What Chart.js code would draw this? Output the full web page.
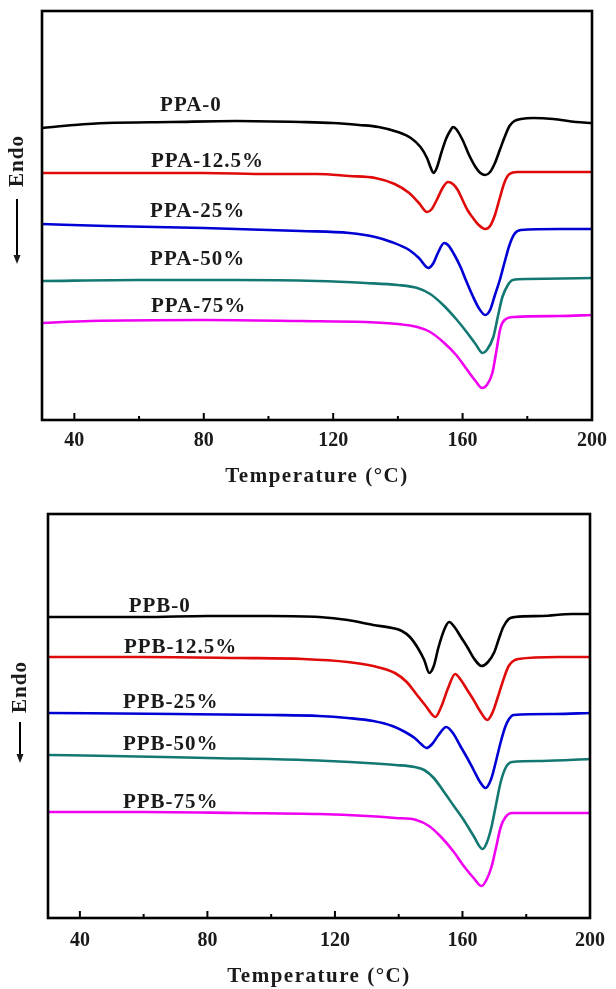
<!DOCTYPE html>
<html>
<head>
<meta charset="utf-8">
<script src="https://cdn.jsdelivr.net/npm/chart.js@4"></script>
<style>
  html, body { margin: 0; padding: 0; background: #fff; }
  .panel { position: absolute; left: 0; width: 616px; }
  #top-panel { top: 0; height: 495px; }
  #bottom-panel { top: 495px; height: 494px; }
</style>
</head>
<body>
<div class="panel" id="top-panel"><canvas id="ppa-chart"></canvas></div>
<div class="panel" id="bottom-panel"><canvas id="ppb-chart"></canvas></div>
<script>
// axis text
const xMajorTicks = [40, 80, 120, 160, 200];
const xMinorTicks = [60, 100, 140, 180];
const xTitle = "Temperature (°C)";
const yTitle = "Endo";

const ppaNames = ["PPA-0", "PPA-12.5%", "PPA-25%", "PPA-50%", "PPA-75%"];
const ppbNames = ["PPB-0", "PPB-12.5%", "PPB-25%", "PPB-50%", "PPB-75%"];
const curveColors = ["#000000", "#e00a0a", "#0000d4", "#137872", "#f000f0"];

// DSC curves, [temperature (°C), heat flow (a.u., offset per curve)]
const ppa0 = [[30, 29.0], [40, 29.3], [50, 29.5], [70, 29.6], [90, 29.7], [110, 29.6], [120, 29.5], [128, 29.3], [134, 29.1], [140, 28.6], [144, 28.0], [147, 27.1], [149, 26.0], [150.3, 24.9], [151, 24.5], [152, 25.0], [153.5, 26.6], [155, 28.0], [156.5, 28.9], [157, 29.1], [158, 28.9], [160, 27.8], [162, 26.3], [164, 25.1], [165.5, 24.5], [167, 24.3], [168.5, 24.6], [170, 25.5], [171.5, 26.8], [173, 28.1], [174.5, 29.2], [176, 29.7], [178, 29.9], [182, 30.0], [188, 29.9], [195, 29.6], [200, 29.5]];
const ppa125 = [[30, 24.5], [50, 24.5], [80, 24.5], [100, 24.4], [115, 24.4], [125, 24.2], [133, 24.0], [139, 23.4], [143.5, 22.5], [146.5, 21.5], [149, 20.6], [150.5, 20.9], [152, 21.8], [154, 23.1], [155.5, 23.6], [157, 23.4], [158.5, 22.8], [160, 21.8], [161.5, 20.8], [163, 20.1], [165, 19.3], [167, 18.9], [168.5, 19.2], [170, 20.3], [171.5, 22.0], [173, 23.6], [174.5, 24.4], [177, 24.6], [185, 24.6], [200, 24.6]];
const ppa25 = [[30, 19.4], [50, 19.2], [80, 19.0], [110, 18.7], [125, 18.5], [133, 18.1], [138, 17.6], [143.5, 16.8], [146.5, 16.0], [149.4, 15.0], [151, 15.5], [152.5, 16.6], [154.3, 17.5], [155.5, 17.3], [157.5, 16.3], [159.5, 15.0], [161, 13.8], [163, 12.3], [165, 11.0], [167, 10.3], [168.5, 10.8], [170, 12.3], [171.5, 13.8], [173, 15.6], [174.5, 17.3], [176, 18.4], [178, 18.8], [190, 18.9], [200, 18.9]];
const ppa50 = [[30, 13.7], [60, 13.8], [90, 13.8], [115, 13.7], [130, 13.5], [140, 13.3], [146, 13.0], [150, 12.4], [154, 11.3], [158, 9.9], [161, 8.7], [164, 7.4], [166.2, 6.5], [167.5, 6.8], [169.5, 8.1], [171, 10.3], [172.3, 12.1], [174, 13.3], [175.5, 13.8], [180, 13.9], [200, 14.0]];
const ppa75 = [[30, 9.5], [45, 9.7], [80, 9.8], [110, 9.7], [130, 9.6], [140, 9.4], [146, 9.1], [150, 8.6], [154, 7.6], [158, 6.3], [161, 5.0], [164, 3.7], [166, 3.0], [167.5, 3.3], [169.2, 4.5], [170.5, 6.8], [171.7, 9.0], [173, 9.8], [176, 10.1], [190, 10.2], [200, 10.3]];

const ppb0 = [[30, 29.8], [60, 29.8], [80, 29.9], [100, 29.9], [115, 29.8], [124, 29.5], [132, 29.0], [138, 28.7], [141, 28.4], [143.5, 27.8], [146, 26.7], [148, 25.5], [149.6, 24.2], [151, 24.9], [152.5, 26.8], [154.5, 28.7], [155.8, 29.3], [157.5, 28.8], [159.5, 27.8], [161.5, 26.8], [163.5, 25.7], [166, 24.9], [168, 25.3], [170, 26.3], [171.5, 27.7], [172.8, 28.8], [174.5, 29.6], [176.5, 29.8], [185, 29.9], [194.5, 30.1], [200, 30.1]];
const ppb125 = [[30, 25.8], [60, 25.8], [90, 25.7], [110, 25.6], [124, 25.3], [132, 24.9], [138.8, 24.2], [142.5, 23.3], [145.5, 22.1], [148.5, 20.9], [151.5, 19.8], [153.3, 20.8], [155.5, 22.7], [157.7, 24.1], [159.5, 23.5], [161.5, 22.5], [163.5, 21.5], [165.5, 20.4], [167.8, 19.5], [169.5, 20.3], [171, 21.7], [172.5, 23.2], [174.5, 24.9], [177.5, 25.6], [190, 25.8], [200, 25.8]];
const ppb25 = [[30, 20.2], [70, 20.1], [100, 20.0], [115, 19.9], [124, 19.7], [132, 19.4], [138, 18.9], [142, 18.3], [145, 17.7], [147, 17.1], [148.7, 16.7], [150.5, 17.1], [152.5, 18.0], [154.9, 18.8], [157, 18.2], [159.5, 16.8], [161.5, 15.7], [163.5, 14.5], [165.5, 13.3], [167.2, 12.7], [169, 13.6], [170.6, 15.5], [172, 17.3], [173.4, 18.8], [174.6, 19.6], [176, 20.0], [189, 20.1], [200, 20.2]];
const ppb50 = [[30, 16.0], [50, 15.9], [80, 15.7], [110, 15.5], [130, 15.2], [139, 15.0], [145, 14.8], [148, 14.5], [151, 13.7], [154, 12.4], [157.3, 10.9], [160.4, 9.5], [163.5, 7.9], [166.3, 6.6], [167.6, 7.2], [169.1, 8.8], [170.5, 11.0], [172, 13.3], [173.5, 14.7], [175.5, 15.3], [185, 15.4], [200, 15.6]];
const ppb75 = [[30, 10.3], [60, 10.3], [90, 10.2], [115, 10.1], [130, 9.9], [139, 9.7], [145.5, 9.5], [149.5, 8.9], [153.3, 7.8], [157.3, 6.3], [160.4, 4.9], [163.5, 3.7], [166, 2.9], [167.5, 3.5], [169.1, 4.8], [170.5, 6.7], [172, 8.8], [173.5, 9.8], [175.5, 10.2], [190, 10.2], [200, 10.2]];

// where each curve name starts, [temperature, heat flow]
const ppaNamePos = [[66.5, 31.2], [63.7, 25.6], [63.4, 20.6], [63.4, 15.8], [63.7, 11.1]];
const ppbNamePos = [[55.3, 30.8], [53.8, 26.7], [53.5, 21.2], [53.5, 17.0], [53.5, 11.2]];

const textColor = "#1a1a1a";
const serif = "'Liberation Serif', 'Times New Roman', serif";

// frame, inward ticks, curve names, axis title and the Endo arrow
const decorPlugin = {
  id: "decor",
  afterDatasetsDraw(chart, args, opts) {
    const { ctx, chartArea: a } = chart;
    const x = chart.scales.x;
    const y = chart.scales.y;
    ctx.save();
    ctx.strokeStyle = "#000";
    ctx.lineWidth = 2.6;
    ctx.strokeRect(a.left, a.top, a.right - a.left, a.bottom - a.top);

    ctx.lineWidth = 2;
    const tick = (v, len) => {
      const px = x.getPixelForValue(v);
      ctx.beginPath();
      ctx.moveTo(px, a.bottom);
      ctx.lineTo(px, a.bottom - len);
      ctx.stroke();
    };
    xMajorTicks.forEach((v) => tick(v, 7));
    xMinorTicks.forEach((v) => tick(v, 4));

    ctx.fillStyle = textColor;
    ctx.font = "bold 21px " + serif;
    ctx.letterSpacing = "1px";
    ctx.textAlign = "left";
    ctx.textBaseline = "middle";
    opts.names.forEach((name, i) => {
      ctx.fillText(name, x.getPixelForValue(opts.namePos[i][0]), y.getPixelForValue(opts.namePos[i][1]));
    });

    ctx.textAlign = "center";
    ctx.letterSpacing = "1.5px";
    ctx.fillText(xTitle, (a.left + a.right) / 2, opts.titleY);

    // rotated "Endo" with a downward arrow below it
    ctx.save();
    ctx.translate(opts.endoX, opts.endoY);
    ctx.rotate(-Math.PI / 2);
    ctx.letterSpacing = "1px";
    ctx.fillText(yTitle, 0, 0);
    ctx.restore();

    const ax = opts.endoX - 1;
    ctx.lineWidth = 2;
    ctx.beginPath();
    ctx.moveTo(ax, opts.arrowTop);
    ctx.lineTo(ax, opts.arrowBottom - 6);
    ctx.stroke();
    ctx.beginPath();
    ctx.moveTo(ax - 3.5, opts.arrowBottom - 9);
    ctx.lineTo(ax + 3.5, opts.arrowBottom - 9);
    ctx.lineTo(ax, opts.arrowBottom);
    ctx.closePath();
    ctx.fill();
    ctx.restore();
  },
};

function makeChart(canvas, series, names, p) {
  return new Chart(canvas.getContext("2d"), {
    type: "line",
    data: {
      datasets: series.map((pts, i) => ({
        label: names[i],
        data: pts.map(([t, v]) => ({ x: t, y: v })),
        borderColor: curveColors[i],
        borderWidth: 2.6,
        pointRadius: 0,
        cubicInterpolationMode: "monotone",
        fill: false,
      })),
    },
    options: {
      responsive: true,
      maintainAspectRatio: false,
      animation: false,
      devicePixelRatio: 1,
      layout: { padding: { left: p.left, right: p.right, top: p.top, bottom: 0 } },
      plugins: {
        legend: { display: false },
        tooltip: { enabled: false },
        decor: {
          names: names,
          namePos: p.namePos,
          titleY: p.titleY,
          endoX: p.endoX,
          endoY: p.endoY,
          arrowTop: p.arrowTop,
          arrowBottom: p.arrowBottom,
        },
      },
      scales: {
        x: {
          type: "linear",
          min: 30,
          max: 200,
          afterBuildTicks: (s) => {
            s.ticks = xMajorTicks.map((v) => ({ value: v }));
          },
          afterFit: (s) => {
            s.height = p.axisHeight;
          },
          grid: { display: false, drawTicks: false },
          border: { display: false },
          ticks: {
            padding: p.tickPad,
            color: textColor,
            maxRotation: 0,
            font: { family: serif, size: 20, weight: "bold" },
          },
        },
        y: { display: false, min: p.yMin, max: p.yMax },
      },
    },
    plugins: [decorPlugin],
  });
}

makeChart(document.querySelector("#ppa-chart"), [ppa0, ppa125, ppa25, ppa50, ppa75], ppaNames, {
  left: 42, right: 17, top: 11, axisHeight: 75, tickPad: 9,
  yMin: -0.2, yMax: 40.7,
  namePos: ppaNamePos, titleY: 477,
  endoX: 18, endoY: 161, arrowTop: 199, arrowBottom: 264,
});

makeChart(document.querySelector("#ppb-chart"), [ppb0, ppb125, ppb25, ppb50, ppb75], ppbNames, {
  left: 48, right: 18, top: 19, axisHeight: 71, tickPad: 11,
  yMin: -0.3, yMax: 40.1,
  namePos: ppbNamePos, titleY: 482,
  endoX: 21, endoY: 192, arrowTop: 227, arrowBottom: 268,
});
</script>
</body>
</html>
